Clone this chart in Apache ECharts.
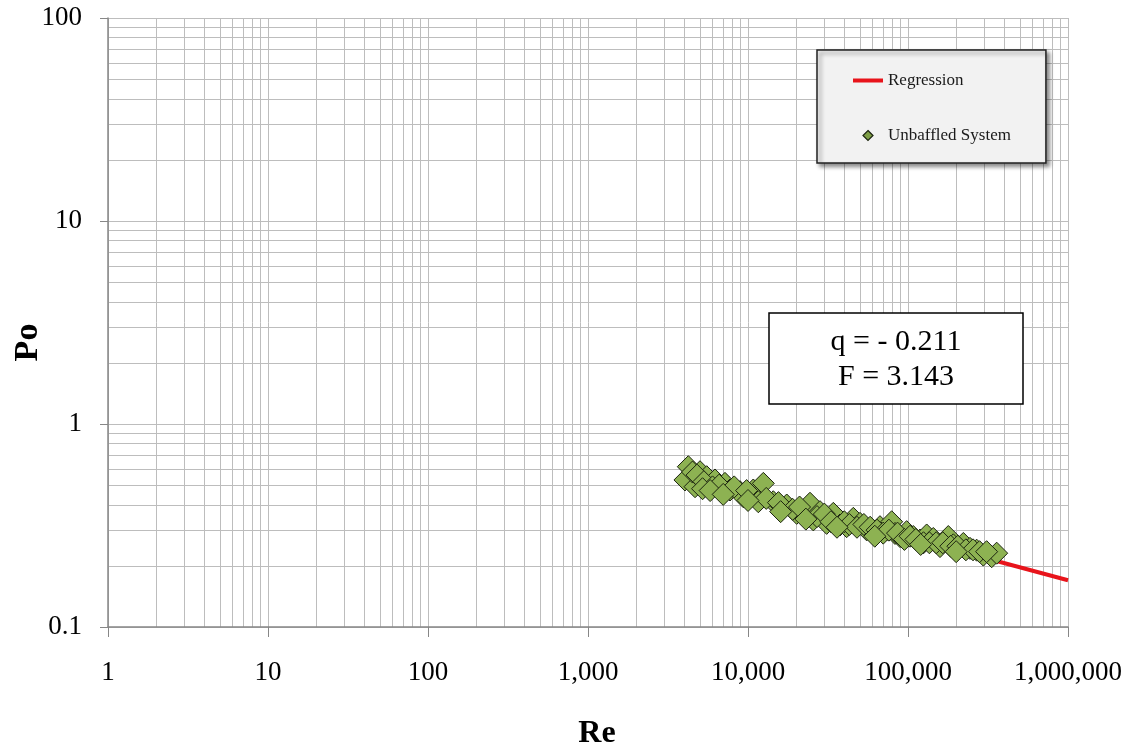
<!DOCTYPE html>
<html>
<head>
<meta charset="utf-8">
<script src="https://cdn.jsdelivr.net/npm/echarts@6/dist/echarts.min.js"></script>
<style>html,body{margin:0;padding:0;background:#fff;}#chart{width:1133px;height:752px;}</style>
</head>
<body>
<div id="chart"></div>
<script>
// ---- data ----
const reValues = [4236, 4036, 5012, 4667, 5520, 6220, 7180, 7720, 8913, 9350, 10790, 11885, 12470, 11600, 14390, 16240, 17460, 20150, 22160, 24410, 25600, 28180, 31020, 34140, 37580, 41370, 45530, 50120, 55170, 60720, 66830, 73560, 79070, 82940, 89130, 98090, 107900, 118850, 130800, 143900, 158500, 178600, 191900, 221800, 244100, 268600, 295600, 333600, 358300,
  4500, 4800, 5300, 6000, 6600, 8200, 9800, 13000, 15500, 19000, 21000, 27000, 30000, 33000, 40000, 43000, 48000, 53000, 58000, 64000, 70000, 76000, 86000, 95000, 103000, 112000, 125000, 136000, 150000, 165000, 185000, 205000, 230000, 255000, 280000, 310000,
  5200, 5800, 7000, 10000, 16000, 23000, 36000, 62000, 120000, 200000];
const poValues = [0.616, 0.530, 0.582, 0.491, 0.550, 0.530, 0.510, 0.473, 0.464, 0.438, 0.473, 0.456, 0.510, 0.414, 0.414, 0.392, 0.399, 0.363, 0.356, 0.407, 0.337, 0.370, 0.324, 0.363, 0.318, 0.312, 0.343, 0.324, 0.301, 0.289, 0.312, 0.301, 0.330, 0.289, 0.279, 0.295, 0.279, 0.268, 0.284, 0.273, 0.249, 0.279, 0.254, 0.258, 0.244, 0.239, 0.226, 0.222, 0.231,
  0.580, 0.560, 0.520, 0.490, 0.500, 0.490, 0.470, 0.430, 0.410, 0.380, 0.390, 0.350, 0.360, 0.330, 0.330, 0.320, 0.310, 0.320, 0.310, 0.300, 0.290, 0.300, 0.290, 0.270, 0.280, 0.270, 0.260, 0.260, 0.260, 0.260, 0.250, 0.250, 0.240, 0.240, 0.235, 0.235,
  0.480, 0.470, 0.450, 0.420, 0.370, 0.340, 0.310, 0.280, 0.255, 0.235];
const regressionRe = [4300, 1000000];
const regressionPo = [0.54, 0.17];
const xTickValues = [1, 10, 100, 1000, 10000, 100000, 1000000];
const yTickValues = [0.1, 1, 10, 100];
const minorFactors = [2, 3, 4, 5, 6, 7, 8, 9];
const annotationLines = ['q = - 0.211', 'F = 3.143'];
const seriesNames = ['Regression', 'Unbaffled System'];

// ---- build ----
const scatterData = reValues.map((v, i) => [v, poValues[i]]);
const regressionData = regressionRe.map((v, i) => [v, regressionPo[i]]);
const minorX = [];
xTickValues.slice(0, -1).forEach(d => minorFactors.forEach(f => minorX.push({ xAxis: d * f })));
const minorY = [];
yTickValues.slice(0, -1).forEach(d => minorFactors.forEach(f => minorY.push({ yAxis: +(d * f).toPrecision(6) })));

const serif = 'Liberation Serif';
const chart = echarts.init(document.getElementById('chart'));
chart.setOption({
  animation: false,
  backgroundColor: '#ffffff',
  grid: { left: 108, right: 65, top: 18, bottom: 125, containLabel: false, outerBoundsMode: 'none' },
  xAxis: {
    type: 'log', logBase: 10, min: 1, max: 1000000,
    name: 'Re', nameLocation: 'middle', nameGap: 91, nameMoveOverlap: false,
    nameTextStyle: { fontFamily: serif, fontSize: 32, fontWeight: 'bold', color: '#000', padding: [0, 0, 0, 18] },
    axisLine: { show: true, lineStyle: { color: '#878787', width: 1.5 } },
    axisTick: { show: true, length: 10, lineStyle: { color: '#878787' } },
    axisLabel: {
      margin: 32, fontFamily: serif, fontSize: 27, color: '#000',
      formatter: v => Math.round(v).toLocaleString('en-US')
    },
    splitLine: { show: true, lineStyle: { color: '#bdbdbd', width: 1 } }
  },
  yAxis: {
    type: 'log', logBase: 10, min: 0.1, max: 100,
    name: 'Po', nameLocation: 'middle', nameGap: 63, nameRotate: 90, nameMoveOverlap: false,
    nameTextStyle: { fontFamily: serif, fontSize: 34, fontWeight: 'bold', color: '#000', padding: [0, 40, 0, 0] },
    axisLine: { show: true, lineStyle: { color: '#878787', width: 1.5 } },
    axisTick: { show: true, length: 8, lineStyle: { color: '#878787' } },
    axisLabel: {
      margin: 26, fontFamily: serif, fontSize: 27, color: '#000',
      formatter: v => String(+v.toPrecision(6))
    },
    splitLine: { show: true, lineStyle: { color: '#bdbdbd', width: 1 } }
  },
  legend: {
    left: 817, top: 50, orient: 'vertical',
    backgroundColor: '#f2f2f2', borderColor: '#222', borderWidth: 1.5,
    shadowColor: 'rgba(0,0,0,0.45)', shadowBlur: 4, shadowOffsetX: 3, shadowOffsetY: 3,
    padding: [22, 35, 19, 36], itemGap: 38, itemWidth: 30, itemHeight: 10,
    textStyle: { fontFamily: serif, fontSize: 17, color: '#1a1a1a' },
    data: [
      { name: seriesNames[0], icon: 'path://M0,0h30v4h-30z', itemStyle: { color: '#e8141b', borderWidth: 0 } },
      { name: seriesNames[1], icon: 'path://M5,0L10,5L5,10L0,5Z', itemStyle: { color: '#7d9e45', borderColor: '#1c2410', borderWidth: 1.2, opacity: 1 } }
    ]
  },
  graphic: [
    {
      type: 'rect', x: 769, y: 313, z: 50,
      shape: { width: 254, height: 91 },
      style: { fill: '#fff', stroke: '#000', lineWidth: 1.5 }
    },
    {
      type: 'text', x: 896, y: 325, z: 51,
      style: { text: annotationLines.join('\n'), fontFamily: serif, fontSize: 30, lineHeight: 35, fill: '#000', align: 'center', verticalAlign: 'top' }
    }
  ],
  series: [
    {
      name: seriesNames[0], type: 'line', data: regressionData, showSymbol: false, z: 2,
      lineStyle: { color: '#e8141b', width: 4 }, itemStyle: { color: '#e8141b' },
      markLine: {
        silent: true, symbol: 'none', label: { show: false },
        lineStyle: { color: '#bdbdbd', width: 1, type: 'solid' },
        data: minorX.concat(minorY), z: 0
      }
    },
    {
      name: seriesNames[1], type: 'scatter', data: scatterData, symbol: 'diamond', symbolSize: 22, z: 3,
      itemStyle: { color: '#8db252', borderColor: '#1c2410', borderWidth: 1, opacity: 1 }
    }
  ]
});
</script>
</body>
</html>
